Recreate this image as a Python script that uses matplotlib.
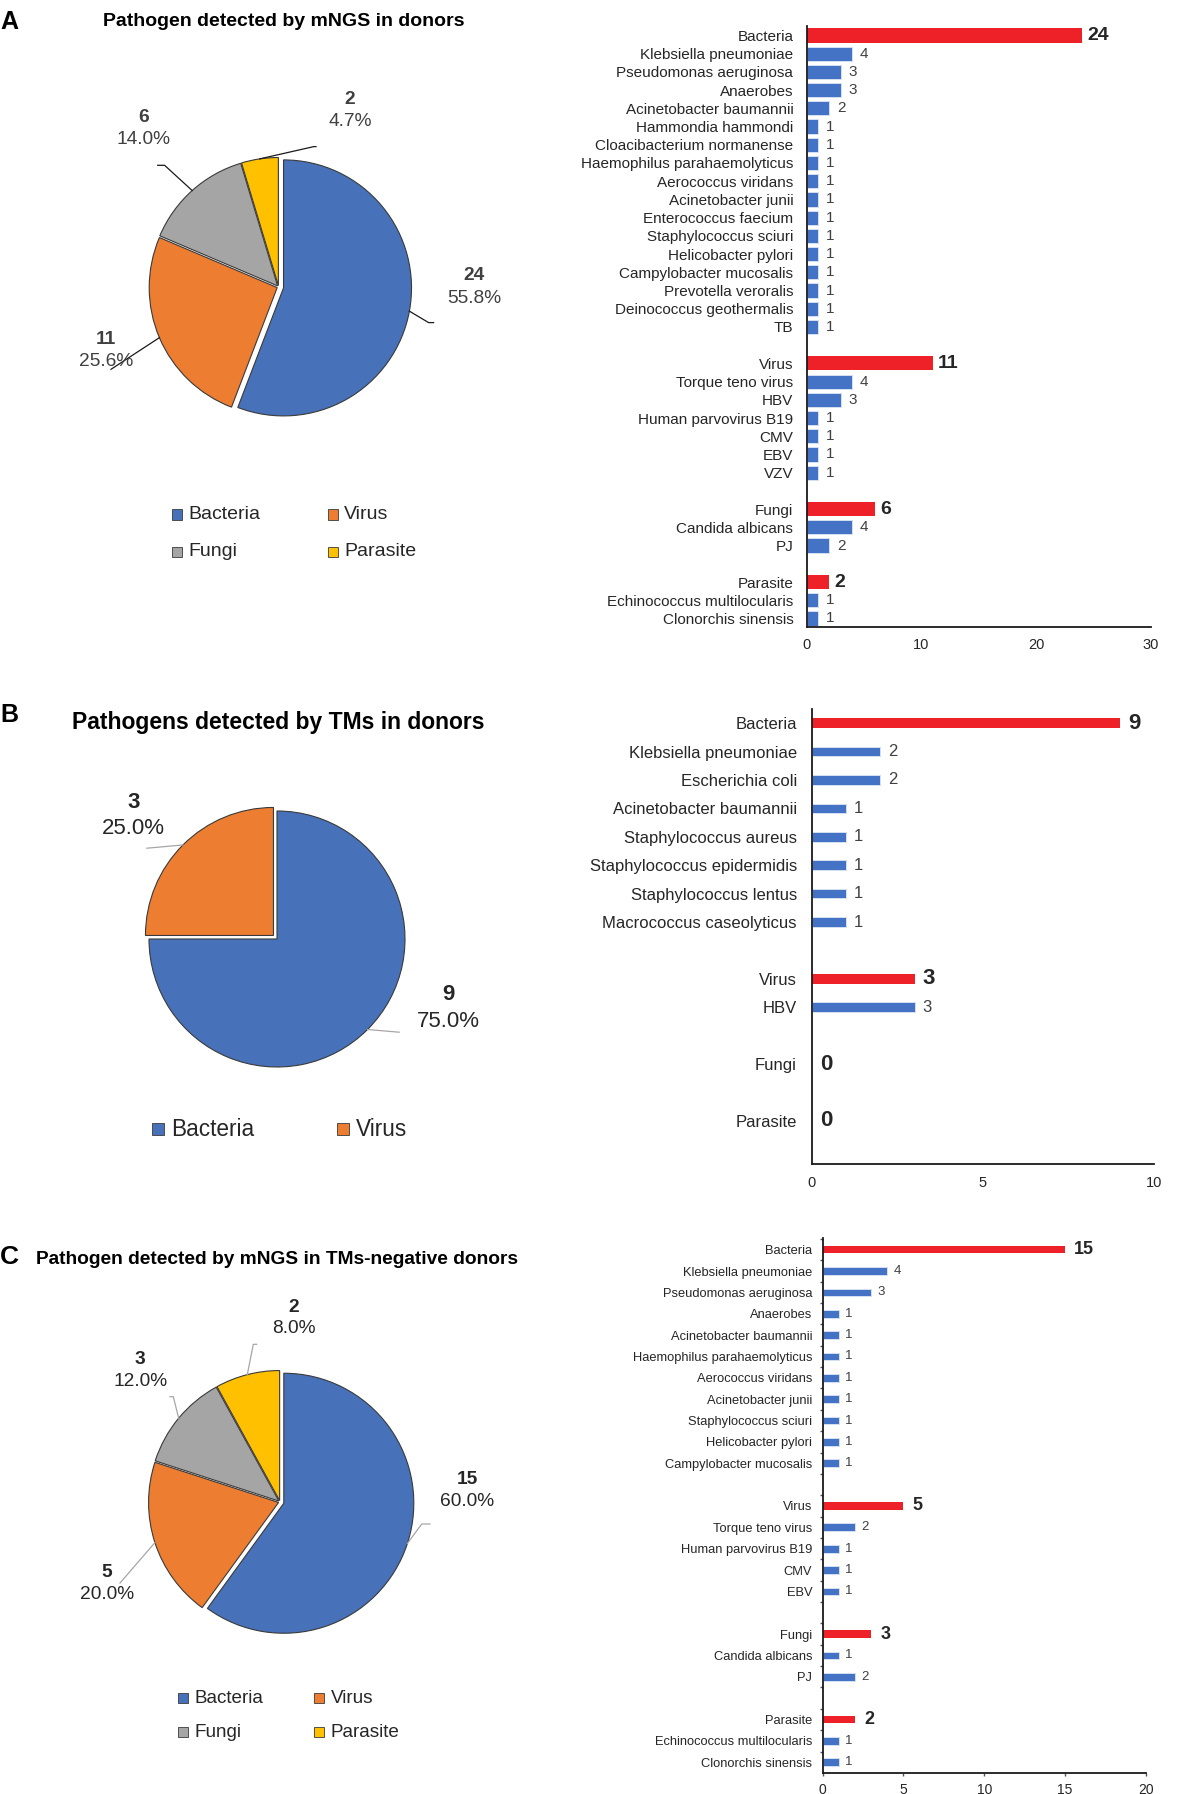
import numpy as np
import matplotlib
matplotlib.use('Agg')
import matplotlib.pyplot as plt
from matplotlib.patches import Rectangle

plt.rcParams['font.family'] = ['Liberation Sans', 'DejaVu Sans']

W, H = 1181, 1794  # figure size in pixels

# ---------------- data ----------------
pieA_names = ['Bacteria', 'Virus', 'Fungi', 'Parasite']
pieA_vals = [24, 11, 6, 2]
pieB_names = ['Bacteria', 'Virus']
pieB_vals = [9, 3]
pieC_names = ['Bacteria', 'Virus', 'Fungi', 'Parasite']
pieC_vals = [15, 5, 3, 2]

# panel A bars
A_groups = ['Bacteria', 'Virus', 'Fungi', 'Parasite']
A_totals = [24, 11, 6, 2]
A_bacteria = ['Klebsiella pneumoniae', 'Pseudomonas aeruginosa', 'Anaerobes', 'Acinetobacter baumannii',
              'Hammondia hammondi', 'Cloacibacterium normanense', 'Haemophilus parahaemolyticus',
              'Aerococcus viridans', 'Acinetobacter junii', 'Enterococcus faecium', 'Staphylococcus sciuri',
              'Helicobacter pylori', 'Campylobacter mucosalis', 'Prevotella veroralis',
              'Deinococcus geothermalis', 'TB']
A_bacteria_vals = [4, 3, 3, 2, 1, 1, 1, 1, 1, 1, 1, 1, 1, 1, 1, 1]
A_virus = ['Torque teno virus', 'HBV', 'Human parvovirus B19', 'CMV', 'EBV', 'VZV']
A_virus_vals = [4, 3, 1, 1, 1, 1]
A_fungi = ['Candida albicans', 'PJ']
A_fungi_vals = [4, 2]
A_parasite = ['Echinococcus multilocularis', 'Clonorchis sinensis']
A_parasite_vals = [1, 1]

# panel B bars
B_groups = ['Bacteria', 'Virus', 'Fungi', 'Parasite']
B_totals = [9, 3, 0, 0]
B_bacteria = ['Klebsiella pneumoniae', 'Escherichia coli', 'Acinetobacter baumannii',
              'Staphylococcus aureus', 'Staphylococcus epidermidis', 'Staphylococcus lentus',
              'Macrococcus caseolyticus']
B_bacteria_vals = [2, 2, 1, 1, 1, 1, 1]
B_virus = ['HBV']
B_virus_vals = [3]
B_fungi = []
B_fungi_vals = []
B_parasite = []
B_parasite_vals = []

# panel C bars
C_groups = ['Bacteria', 'Virus', 'Fungi', 'Parasite']
C_totals = [15, 5, 3, 2]
C_bacteria = ['Klebsiella pneumoniae', 'Pseudomonas aeruginosa', 'Anaerobes', 'Acinetobacter baumannii',
              'Haemophilus parahaemolyticus', 'Aerococcus viridans', 'Acinetobacter junii',
              'Staphylococcus sciuri', 'Helicobacter pylori', 'Campylobacter mucosalis']
C_bacteria_vals = [4, 3, 1, 1, 1, 1, 1, 1, 1, 1]
C_virus = ['Torque teno virus', 'Human parvovirus B19', 'CMV', 'EBV']
C_virus_vals = [2, 1, 1, 1]
C_fungi = ['Candida albicans', 'PJ']
C_fungi_vals = [1, 2]
C_parasite = ['Echinococcus multilocularis', 'Clonorchis sinensis']
C_parasite_vals = [1, 1]

# ---------------- styles ----------------
pie_colors = ['#4771B8', '#ED7D31', '#A5A5A5', '#FFC000']
bar_blue = '#4472C4'
bar_red = '#EE2028'
dark = '#262626'
grey_txt = '#404040'

fig = plt.figure(figsize=(W / 100, H / 100), dpi=100)
canvas = fig.add_axes([0, 0, 1, 1])
canvas.set_xlim(0, W)
canvas.set_ylim(H, 0)
canvas.axis('off')


def draw_pie(cx, cy, r, vals, explode, lab_pos, leaders, fs, line_col, txt_col):
    R = r + 30
    ax = fig.add_axes([(cx - R) / W, 1 - (cy + R) / H, 2 * R / W, 2 * R / H])
    wedges, _ = ax.pie(vals, colors=pie_colors[:len(vals)], startangle=90, counterclock=False,
                       radius=r, explode=explode,
                       wedgeprops=dict(edgecolor='#3a3a3a', linewidth=0.8))
    ax.set_xlim(-R, R)
    ax.set_ylim(-R, R)
    ax.axis('off')
    tot = sum(vals)
    for i, w in enumerate(wedges):
        # leader line from the slice edge (at its mid angle) to the label
        mid = np.deg2rad(0.5 * (w.theta1 + w.theta2))
        x0 = w.center[0] + r * np.cos(mid)
        y0 = w.center[1] + r * np.sin(mid)
        xs = [x0] + [p[0] - cx for p in leaders[i]]
        ys = [y0] + [cy - p[1] for p in leaders[i]]
        ax.plot(xs, ys, color=line_col, lw=0.9, clip_on=False)
        lx, ly_num, ly_pct = lab_pos[i]
        ax.text(lx - cx, cy - ly_num, str(vals[i]), ha='center', va='center',
                fontsize=fs, fontweight='bold', color=txt_col, clip_on=False)
        ax.text(lx - cx, cy - ly_pct, f'{vals[i] / tot * 100:.1f}%', ha='center', va='center',
                fontsize=fs, color=txt_col, clip_on=False)
    return ax


def draw_legend(names, xs, ys, size, dx, fs):
    k = 0
    for yy in ys:
        for xx in xs:
            if k >= len(names):
                break
            canvas.add_patch(Rectangle((xx - size / 2, yy - size / 2), size, size,
                                       facecolor=pie_colors[k], edgecolor='#3a3a3a', lw=0.6))
            canvas.text(xx + dx, yy, names[k], ha='left', va='center', fontsize=fs, color=dark)
            k += 1


def draw_bars(box, groups, totals, items, items_vals, xmax, xticks, ylim, h_bar,
              fs_lab, fs_val, fs_tot, fs_tick, lab_pad, tick_pad, val_off, minor=False):
    x0, y0, x1, y1 = box
    ax = fig.add_axes([x0 / W, 1 - y1 / H, (x1 - x0) / W, (y1 - y0) / H])
    pos = 0
    ypos, names = [], []
    for g, t, its, vs in zip(groups, totals, items, items_vals):
        ax.barh(pos, t, height=h_bar, color=bar_red, edgecolor='none')
        ax.annotate(str(t), (t, pos), xytext=(val_off[1], 0), textcoords='offset points',
                    ha='left', va='center', fontsize=fs_tot, fontweight='bold', color=dark)
        ypos.append(pos)
        names.append(g)
        for j, (n, v) in enumerate(zip(its, vs)):
            p = pos + 1 + j
            ax.barh(p, v, height=h_bar, color=bar_blue, edgecolor='#d5e0f2', linewidth=0.7)
            ax.annotate(str(v), (v, p), xytext=(val_off[0], 0), textcoords='offset points',
                        ha='left', va='center', fontsize=fs_val, color=grey_txt)
            ypos.append(p)
            names.append(n)
        pos += len(its) + 2
    ax.set_xlim(0, xmax)
    ax.set_ylim(*ylim)
    ax.set_xticks(xticks)
    ax.set_yticks(ypos)
    ax.set_yticklabels(names, fontsize=fs_lab, color=dark)
    ax.tick_params(axis='y', length=0, pad=lab_pad)
    ax.tick_params(axis='x', labelsize=fs_tick, labelcolor=dark, pad=tick_pad,
                   length=2.5 if minor else 0, width=1, color='#555555')
    if minor:
        ax.set_yticks(np.arange(-0.5, ylim[0], 1.0), minor=True)
        ax.tick_params(axis='y', which='minor', length=2.5, width=1, color='#555555')
    for s in ['top', 'right']:
        ax.spines[s].set_visible(False)
    for s in ['left', 'bottom']:
        ax.spines[s].set_linewidth(1.3)
        ax.spines[s].set_color('#1a1a1a')
    ax.patch.set_alpha(0)
    return ax


# ---------------- panel A ----------------
canvas.text(0, 22, 'A', fontsize=18, fontweight='bold', ha='left', va='center')
canvas.text(284, 22, 'Pathogen detected by mNGS in donors', fontsize=14, fontweight='bold',
            ha='center', va='center')
draw_pie(278.6, 287, 128, pieA_vals, [5, 1.5, 1.5, 1.5],
         [(474.5, 276, 298.5), (106, 339.5, 361.7), (143.5, 118, 140), (350, 100, 122)],
         [[(428.6, 322.6), (433.6, 322.6)], [(111, 369.3)],
          [(164.6, 165.3), (157.7, 165.3)], [(313.8, 146.6), (316, 146.6)]],
         13.8, '#1a1a1a', grey_txt)
draw_legend(pieA_names, [177, 333], [514.7, 551.8], 10.5, 11, 14)
draw_bars((806.5, 26, 1151, 627), A_groups, A_totals,
          [A_bacteria, A_virus, A_fungi, A_parasite],
          [A_bacteria_vals, A_virus_vals, A_fungi_vals, A_parasite_vals],
          30, [0, 10, 20, 30], (32.47, -0.52), 0.78,
          11, 11, 14, 10.5, 9.5, 8, (5.5, 3.5))

# ---------------- panel B ----------------
canvas.text(0, 715, 'B', fontsize=18, fontweight='bold', ha='left', va='center')
canvas.text(71.6, 722, 'Pathogens detected by TMs in donors', fontsize=16.5, fontweight='bold',
            ha='left', va='center')
draw_pie(277, 939, 128, pieB_vals, [0, 5],
         [(448.1, 995, 1021.6), (133.3, 802, 828.3)],
         [[(399.2, 1032.2)], [(146.9, 848.2)]],
         16, '#A6A6A6', dark)
draw_legend(pieB_names, [158.2, 343.4], [1129.4], 12, 12.8, 16.3)
draw_bars((812, 709.2, 1154, 1163.6), B_groups, B_totals,
          [B_bacteria, B_virus, B_fungi, B_parasite],
          [B_bacteria_vals, B_virus_vals, B_fungi_vals, B_parasite_vals],
          10, [0, 5, 10], (15.5, -0.49), 0.34,
          12, 12, 16, 10.5, 10.8, 9, (5.5, 6))

# ---------------- panel C ----------------
canvas.text(0, 1257, 'C', fontsize=19, fontweight='bold', ha='left', va='center')
canvas.text(36.2, 1260, 'Pathogen detected by mNGS in TMs-negative donors', fontsize=13.8,
            fontweight='bold', ha='left', va='center')
draw_pie(280, 1502, 130, pieC_vals, [4, 1.5, 1.5, 1.5],
         [(467, 1479.2, 1501.9), (107, 1572, 1594), (140.1, 1359, 1381.8), (293.7, 1307.2, 1328.8)],
         [[(421.7, 1524), (430, 1524)], [(120, 1583)],
          [(173.3, 1396.7), (170, 1396.7)], [(253.3, 1344.3), (256.7, 1344.3)]],
         13.8, '#A6A6A6', dark)
draw_legend(pieC_names, [183, 319.3], [1698.5, 1732.2], 10, 11.3, 13.6)
draw_bars((822.7, 1237.9, 1145.7, 1772.7), C_groups, C_totals,
          [C_bacteria, C_virus, C_fungi, C_parasite],
          [C_bacteria_vals, C_virus_vals, C_fungi_vals, C_parasite_vals],
          20, [0, 5, 10, 15, 20], (24.49, -0.55), 0.36,
          9.3, 9.5, 13, 10, 7.5, 5, (4.5, 6.5), minor=True)

fig.savefig('out.png', dpi=100)
